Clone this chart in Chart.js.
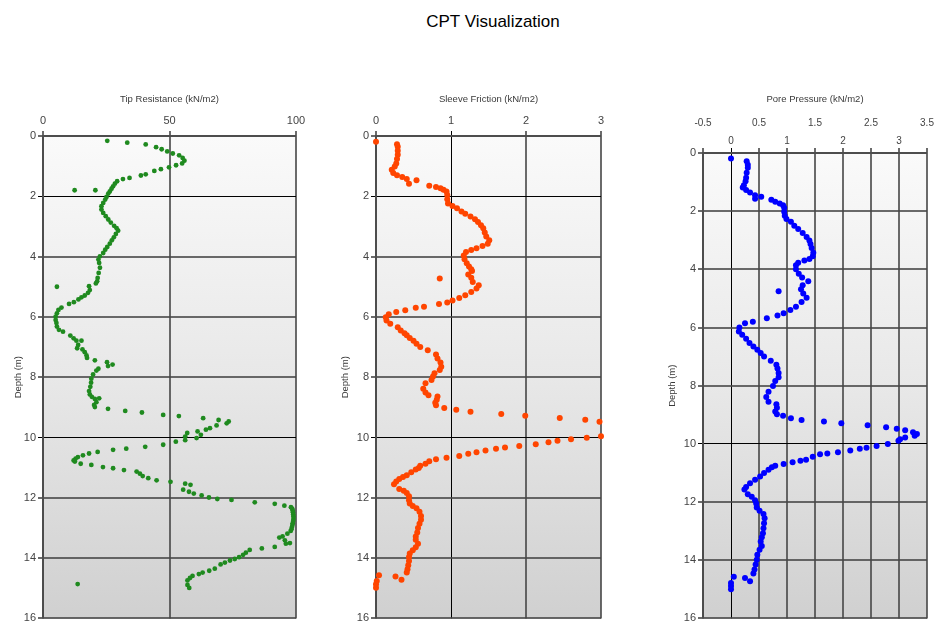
<!DOCTYPE html>
<html>
<head>
<meta charset="utf-8">
<script src="https://cdn.jsdelivr.net/npm/chart.js@4"></script>
<style>
  body { margin: 0; background: #fff; width: 934px; height: 627px; position: relative; overflow: hidden; }
  #title { position: absolute; left: 393px; top: 12px; width: 200px; text-align: center;
           font: 17px "Liberation Sans", Arial, sans-serif; color: #000; }
  canvas { position: absolute; }
</style>
</head>
<body>
<div id="title">CPT Visualization</div>
<canvas id="tipChart" width="310" height="547" style="left:0px;top:80px"></canvas>
<canvas id="sleeveChart" width="300" height="547" style="left:320px;top:80px"></canvas>
<canvas id="poreChart" width="294" height="547" style="left:640px;top:80px"></canvas>
<script>
// tip resistance (kN/m2) vs depth (m)
let tipDepth = [0.16,0.22,0.28,0.37,0.44,0.51,0.58,0.64,0.73,0.82,0.91,0.97,1.04,1.10,1.16,1.27,1.31,1.39,1.43,1.50,
  1.58,1.67,1.75,1.80,1.80,1.84,1.91,2.02,2.11,2.22,2.33,2.44,2.55,2.66,2.77,2.87,2.98,3.06,3.14,3.25,
  3.36,3.46,3.57,3.68,3.77,3.88,3.99,4.10,4.21,4.37,4.54,4.71,4.82,4.89,4.98,5.00,5.11,5.20,5.29,5.35,
  5.42,5.51,5.57,5.69,5.77,5.88,5.99,6.10,6.20,6.32,6.43,6.49,6.62,6.71,6.79,6.79,6.93,7.04,7.08,7.17,
  7.28,7.36,7.44,7.50,7.58,7.63,7.72,7.78,7.91,8.05,8.18,8.32,8.46,8.57,8.65,8.70,8.72,8.83,8.92,8.99,
  9.05,9.12,9.17,9.25,9.29,9.36,9.42,9.47,9.53,9.60,9.69,9.74,9.80,9.85,9.91,9.97,10.02,10.09,10.14,10.24,
  10.31,10.37,10.41,10.48,10.53,10.59,10.65,10.70,10.76,10.80,10.87,10.91,10.98,11.02,11.08,11.13,11.20,11.28,11.35,11.42,
  11.47,11.53,11.57,11.73,11.80,11.86,11.92,11.99,12.04,12.07,12.15,12.20,12.26,12.31,12.36,12.42,12.48,12.55,12.62,12.70,
  12.77,12.84,12.90,12.97,13.04,13.10,13.19,13.28,13.32,13.41,13.50,13.52,13.63,13.68,13.73,13.82,13.89,13.97,14.03,14.08,
  14.15,14.21,14.35,14.42,14.48,14.53,14.59,14.66,14.74,14.86,14.89,14.99];
let tipValue = [25.4,33.3,40.6,44.7,46.9,49.1,51.3,53.8,55.2,55.9,55.0,52.6,49.8,46.6,44.0,40.6,38.7,34.2,31.6,29.3,
  28.4,27.7,27.1,12.5,20.7,26.4,25.8,25.1,24.6,23.8,23.1,23.1,23.8,24.8,25.8,26.8,28.1,29.1,29.7,28.8,
  28.0,27.2,26.4,25.4,24.6,23.8,22.5,21.9,22.2,22.5,22.0,21.6,21.4,20.9,18.2,5.5,18.5,17.8,16.5,15.2,
  14.0,12.2,10.3,7.3,6.1,5.5,5.0,5.0,5.3,5.5,6.3,7.9,10.8,12.1,13.2,15.2,13.9,13.5,15.6,16.5,
  17.2,17.4,20.5,25.3,27.5,25.7,21.9,21.1,19.8,19.1,19.0,18.7,18.2,18.5,19.3,22.2,20.5,21.1,20.2,20.5,
  25.7,32.5,39.1,47.5,53.7,63.3,69.4,73.4,72.6,68.6,66.0,64.4,61.1,57.0,62.4,56.2,60.7,56.2,52.5,47.5,
  40.4,32.9,27.7,21.6,18.2,15.8,13.8,12.9,12.1,12.6,14.9,19.1,23.7,27.7,32.0,37.0,38.3,39.4,41.6,44.9,
  50.4,56.2,58.3,55.4,57.7,59.6,62.7,65.6,68.9,74.5,83.7,91.6,95.4,98.0,98.5,98.7,98.8,98.9,99.0,99.0,
  98.9,98.7,98.6,98.4,98.2,97.9,96.6,94.7,93.4,95.6,97.6,96.0,91.6,86.5,81.7,80.2,79.1,77.5,75.8,73.9,
  71.9,70.2,67.9,65.7,63.1,61.6,59.1,58.1,57.1,13.7,57.1,57.8];

// sleeve friction (kN/m2) vs depth (m)
let sleeveDepth = [0.19,0.27,0.36,0.49,0.62,0.76,0.91,1.01,1.12,1.23,1.30,1.36,1.43,1.47,1.58,1.65,1.69,1.73,1.78,1.84,
  1.96,2.10,2.24,2.32,2.40,2.50,2.58,2.67,2.76,2.85,2.96,3.06,3.20,3.33,3.46,3.57,3.65,3.72,3.78,3.85,
  3.96,4.09,4.22,4.33,4.42,4.48,4.59,4.70,4.73,4.84,4.95,5.06,5.17,5.28,5.37,5.46,5.52,5.57,5.66,5.70,
  5.78,5.84,5.91,6.01,6.12,6.23,6.34,6.45,6.54,6.61,6.70,6.79,6.89,7.00,7.11,7.25,7.38,7.51,7.65,7.76,
  7.87,7.98,8.09,8.20,8.38,8.51,8.60,8.64,8.75,8.85,8.93,9.02,9.08,9.15,9.22,9.28,9.35,9.41,9.48,9.54,
  9.60,9.66,9.72,9.78,9.84,9.96,10.01,10.06,10.11,10.16,10.22,10.28,10.33,10.37,10.43,10.49,10.54,10.61,10.67,10.72,
  10.79,10.87,10.94,11.01,11.06,11.15,11.25,11.31,11.38,11.46,11.55,11.71,11.77,11.84,11.95,12.08,12.19,12.27,12.35,12.46,
  12.60,12.73,12.86,13.00,13.15,13.28,13.39,13.52,13.64,13.74,13.85,13.96,14.10,14.24,14.37,14.48,14.57,14.61,14.72,14.76,
  14.87,14.98];
let sleeveValue = [0.00,0.28,0.29,0.29,0.29,0.28,0.27,0.25,0.21,0.23,0.28,0.35,0.41,0.54,0.44,0.71,0.80,0.86,0.90,0.94,
  0.95,0.95,0.96,1.02,1.08,1.14,1.19,1.26,1.32,1.36,1.40,1.43,1.45,1.47,1.51,1.49,1.42,1.34,1.27,1.20,
  1.17,1.18,1.21,1.24,1.27,1.28,1.23,1.27,0.85,1.29,1.37,1.34,1.27,1.19,1.11,1.02,0.95,0.84,0.64,0.53,
  0.39,0.27,0.17,0.13,0.14,0.19,0.29,0.33,0.38,0.41,0.45,0.50,0.54,0.59,0.69,0.80,0.82,0.86,0.87,0.85,
  0.78,0.76,0.74,0.66,0.63,0.66,0.70,0.82,0.81,0.79,0.80,0.91,1.07,1.26,1.67,1.99,2.45,2.79,2.98,3.12,
  3.26,3.33,3.29,3.12,3.06,3.00,2.81,2.60,2.42,2.30,2.13,1.91,1.72,1.60,1.46,1.34,1.23,1.11,0.94,0.80,
  0.71,0.66,0.59,0.57,0.53,0.47,0.41,0.36,0.31,0.27,0.24,0.31,0.37,0.41,0.44,0.44,0.45,0.49,0.54,0.58,
  0.60,0.60,0.58,0.56,0.55,0.53,0.53,0.56,0.53,0.49,0.45,0.44,0.44,0.43,0.42,0.41,0.04,0.26,0.34,0.01,
  0.00,0.00];

// pore pressure (kN/m2) vs depth (m)
let poreDepth = [0.19,0.28,0.40,0.51,0.68,0.85,0.97,1.11,1.19,1.27,1.36,1.45,1.50,1.57,1.61,1.68,1.74,1.80,1.88,2.02,
  2.16,2.27,2.36,2.50,2.61,2.75,2.89,3.01,3.13,3.27,3.43,3.55,3.64,3.70,3.77,3.86,4.00,4.15,4.28,4.41,
  4.55,4.68,4.75,4.83,4.98,5.12,5.29,5.40,5.51,5.59,5.68,5.80,5.85,6.00,6.14,6.25,6.39,6.53,6.65,6.76,
  6.88,7.00,7.14,7.28,7.41,7.56,7.71,7.84,8.01,8.21,8.39,8.55,8.64,8.76,8.89,8.98,9.03,9.12,9.18,9.23,
  9.29,9.36,9.43,9.48,9.53,9.60,9.66,9.72,9.78,9.84,9.89,10.00,10.07,10.13,10.17,10.23,10.29,10.33,10.36,10.44,
  10.55,10.58,10.63,10.69,10.75,10.80,10.89,11.00,11.12,11.23,11.35,11.48,11.57,11.73,11.82,11.94,12.05,12.19,12.30,12.41,
  12.56,12.73,12.90,13.07,13.21,13.36,13.51,13.64,13.81,13.98,14.15,14.32,14.46,14.57,14.61,14.72,14.78,14.89,15.00];
let poreValue = [0.00,0.28,0.30,0.30,0.28,0.27,0.26,0.23,0.21,0.27,0.34,0.43,0.54,0.43,0.72,0.79,0.87,0.93,0.95,0.95,
  0.96,0.99,1.07,1.13,1.20,1.28,1.35,1.40,1.42,1.44,1.47,1.46,1.40,1.31,1.20,1.16,1.16,1.21,1.27,1.38,
  1.28,1.25,0.85,1.29,1.35,1.26,1.16,1.06,0.94,0.83,0.64,0.39,0.25,0.15,0.14,0.20,0.27,0.33,0.40,0.47,
  0.53,0.59,0.71,0.81,0.83,0.85,0.85,0.79,0.75,0.67,0.63,0.67,0.81,0.82,0.79,0.82,0.93,1.07,1.26,1.66,
  1.97,2.44,2.77,2.96,3.11,3.25,3.32,3.28,3.11,3.02,2.99,2.80,2.60,2.42,2.30,2.13,1.91,1.72,1.59,1.46,
  1.34,1.24,1.10,0.94,0.79,0.73,0.67,0.59,0.52,0.43,0.34,0.27,0.24,0.30,0.37,0.43,0.45,0.46,0.51,0.58,
  0.60,0.59,0.58,0.57,0.55,0.53,0.55,0.51,0.47,0.46,0.44,0.42,0.40,0.05,0.25,0.34,0.00,0.00,0.00];

let depthTicks = [0, 2, 4, 6, 8, 10, 12, 14, 16];
let poreUpperLabels = ["-0.5", "0.5", "1.5", "2.5", "3.5"];
let poreLowerLabels = ["0", "1", "2", "3"];

const fontFamily = '"Liberation Sans", Arial, sans-serif';
const gridGray = 'rgba(70,70,70,0.8)';

const plotBackground = {
  id: 'plotBackground',
  beforeDraw(chart) {
    const { ctx, chartArea: a } = chart;
    const g = ctx.createLinearGradient(0, a.top, 0, a.bottom);
    g.addColorStop(0, '#fafafa');
    g.addColorStop(0.5, '#e8e8e8');
    g.addColorStop(1, '#d0d0d0');
    ctx.save();
    ctx.fillStyle = g;
    ctx.fillRect(a.left, a.top, a.width, a.height);
    ctx.restore();
  }
};

function toPoints(depths, values) {
  return depths.map((d, i) => ({ x: values[i], y: d }));
}

function makePanel(id, p) {
  new Chart(document.getElementById(id), {
    type: 'scatter',
    data: {
      datasets: [{
        data: toPoints(p.depths, p.values),
        backgroundColor: p.color,
        borderWidth: 0,
        pointRadius: p.radius,
        clip: 3
      }]
    },
    options: {
      responsive: false,
      animation: false,
      layout: { padding: { left: 0, top: 0, right: p.padRight, bottom: 5 } },
      plugins: { legend: { display: false }, tooltip: { enabled: false } },
      scales: {
        x: {
          position: 'top',
          min: p.xMin, max: p.xMax,
          afterFit: s => { s.height = p.xHeight; },
          afterBuildTicks: s => { s.ticks = p.xTicks.map(v => ({ value: v })); },
          title: { display: true, text: p.title, color: '#3a3a3a',
                   font: { family: fontFamily, size: 9.5 }, padding: { top: 13.3, bottom: 0 } },
          ticks: {
            autoSkip: false, maxRotation: 0, color: '#444', padding: p.xPad,
            font: { family: fontFamily, size: p.xFont, lineHeight: p.xLineHeight },
            callback: p.xLabel
          },
          grid: {
            tickLength: 5,
            color: c => (c.tick && p.crispX.includes(c.tick.value)) ? '#000' : gridGray,
            lineWidth: c => (c.tick && p.crispX.includes(c.tick.value)) ? 1 : 2
          },
          border: { color: gridGray, width: 2 }
        },
        y: {
          reverse: true,
          min: 0, max: 16,
          afterFit: s => { s.width = p.yWidth; },
          afterBuildTicks: s => { s.ticks = depthTicks.map(v => ({ value: v })); },
          title: { display: true, text: 'Depth (m)', color: '#3a3a3a',
                   font: { family: fontFamily, size: 9.5 }, padding: { top: p.yTitlePad, bottom: 0 } },
          ticks: { color: '#444', padding: 2, font: { family: fontFamily, size: 11 } },
          grid: {
            tickLength: 5,
            color: c => (c.tick && p.crispY.includes(c.tick.value)) ? '#000' : gridGray,
            lineWidth: c => (c.tick && p.crispY.includes(c.tick.value)) ? 1 : 2
          },
          border: { color: gridGray, width: 2 }
        }
      }
    },
    plugins: [plotBackground]
  });
}

makePanel('tipChart', {
  depths: tipDepth, values: tipValue, color: '#1f8a1f', radius: 2.4,
  title: 'Tip Resistance (kN/m2)', xMin: 0, xMax: 100, xTicks: [0, 50, 100],
  xHeight: 56, yWidth: 43, padRight: 14, yTitlePad: 12.3,
  xFont: 11, xLineHeight: 1.2, xPad: 3, xLabel: v => String(v),
  crispX: [], crispY: [2, 10]
});

makePanel('sleeveChart', {
  depths: sleeveDepth, values: sleeveValue, color: '#ff4500', radius: 3,
  title: 'Sleeve Friction (kN/m2)', xMin: 0, xMax: 3, xTicks: [0, 1, 2, 3],
  xHeight: 56, yWidth: 56, padRight: 19, yTitlePad: 19.3,
  xFont: 11, xLineHeight: 1.2, xPad: 3, xLabel: v => String(v),
  crispX: [1], crispY: [2, 10]
});

makePanel('poreChart', {
  depths: poreDepth, values: poreValue, color: '#0000ff', radius: 3,
  title: 'Pore Pressure (kN/m2)', xMin: -0.5, xMax: 3.5,
  xTicks: [-0.5, 0, 0.5, 1, 1.5, 2, 2.5, 3, 3.5],
  xHeight: 73, yWidth: 63, padRight: 7, yTitlePad: 26.3,
  xFont: 10, xLineHeight: 1.77, xPad: -2.2,
  xLabel: v => {
    const s = String(v);
    return poreUpperLabels.includes(s) ? [s, ''] : ['', s];
  },
  crispX: [0], crispY: [10]
});
</script>
</body>
</html>
